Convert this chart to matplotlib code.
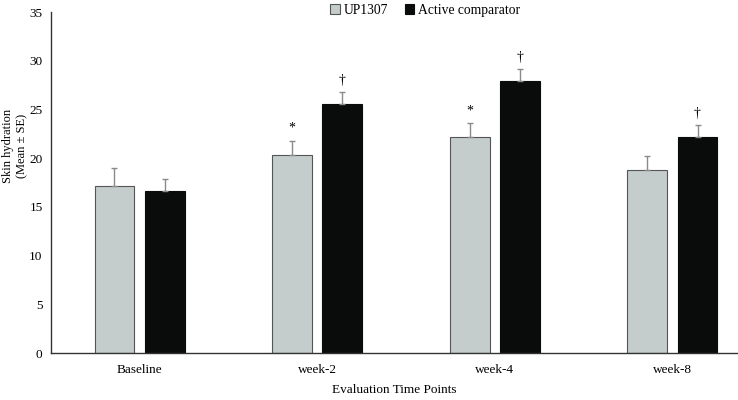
import numpy as np
import matplotlib
matplotlib.use("Agg")
import matplotlib.pyplot as plt

plt.rcParams["font.family"] = ["Liberation Serif", "DejaVu Serif"]

categories = ["Baseline", "week-2", "week-4", "week-8"]
up1307 = [17.1, 20.3, 22.2, 18.8]
up1307_se = [1.9, 1.5, 1.4, 1.4]
active = [16.6, 25.6, 27.9, 22.2]
active_se = [1.3, 1.2, 1.3, 1.2]
up1307_marks = ["", "*", "*", ""]
active_marks = ["", "\u2020", "\u2020", "\u2020"]

fig = plt.figure(figsize=(7.38, 4.0), dpi=100)
ax = fig.add_axes([0.069, 0.1175, 0.931, 0.8525])

x = np.arange(len(categories))
w = 0.225
off = 0.142
err_kw = dict(ecolor="#8a8a8a", elinewidth=1.0, capsize=2.5, capthick=1.0)
ax.bar(x - off, up1307, w, color="#c4cdcb", edgecolor="#555555", lw=0.8,
       yerr=[np.zeros(4), up1307_se], error_kw=err_kw, label="UP1307")
ax.bar(x + off, active, w, color="#0a0c0b", edgecolor="#0a0c0b", lw=0.8,
       yerr=[np.zeros(4), active_se], error_kw=err_kw, label="Active comparator")

for i in range(len(categories)):
    if up1307_marks[i]:
        ax.text(x[i] - off, up1307[i] + up1307_se[i] + 0.6, up1307_marks[i],
                ha="center", va="bottom", fontsize=10)
    if active_marks[i]:
        ax.text(x[i] + off, active[i] + active_se[i] + 0.5, active_marks[i],
                ha="center", va="bottom", fontsize=10)

ax.set_xlim(-0.5, 3.37)
ax.set_ylim(0, 35)
ax.set_yticks(np.arange(0, 36, 5))
ax.set_xticks(x)
ax.set_xticklabels(categories)
ax.tick_params(length=0, labelsize=9.5)
ax.tick_params(axis="y", pad=6)
ax.tick_params(axis="x", pad=8)
for s in ("top", "right"):
    ax.spines[s].set_visible(False)
for s in ("left", "bottom"):
    ax.spines[s].set_color("#333333")
    ax.spines[s].set_linewidth(1.0)

# axis titles placed in figure coords so nothing is clipped
fig.text(15 / 738, 1 - 146 / 400, "Skin hydration\n(Mean \u00b1 SE)", rotation=90,
         ha="center", va="center", fontsize=9, linespacing=1.3)
fig.text(394 / 738, 1 - 390 / 400, "Evaluation Time Points",
         ha="center", va="center", fontsize=9.5)

ax.legend(loc="upper center", bbox_to_anchor=(0.545, 1.06), ncol=2, frameon=False,
          fontsize=9.8, handlelength=0.7, handleheight=0.7, handletextpad=0.3,
          columnspacing=1.2)

fig.savefig("out.png", dpi=100)
